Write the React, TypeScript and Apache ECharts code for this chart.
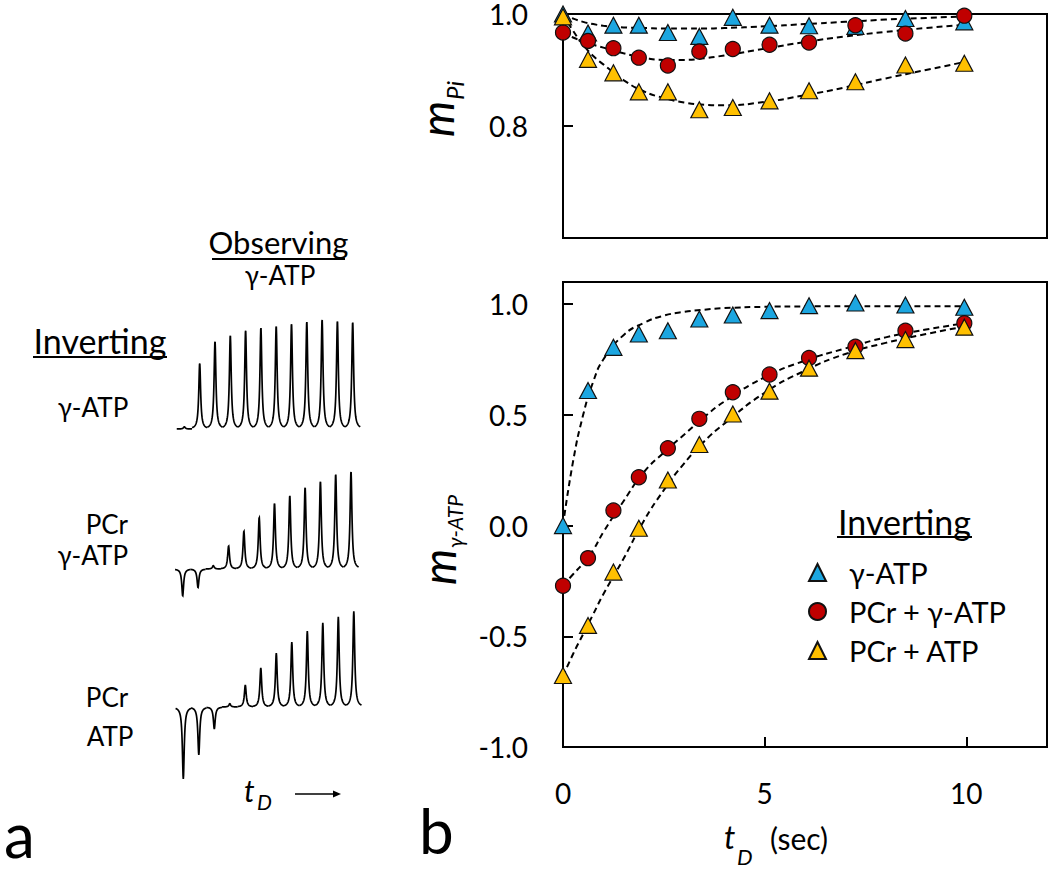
import React, { useEffect, useRef } from "react";
import * as echarts from "echarts";

// ---------- data ----------
const delayTimes = [0, 0.62, 1.25, 1.88, 2.6, 3.38, 4.21, 5.12, 6.1, 7.25, 8.49, 9.95];

// top panel (m_Pi)
const piGamma = [1.0, 0.966, 0.98, 0.98, 0.967, 0.96, 0.994, 0.98, 0.979, 0.978, 0.992, 0.986];
const piPCrGamma = [0.967, 0.952, 0.939, 0.922, 0.908, 0.933, 0.9375, 0.945, 0.949, 0.98, 0.965, 0.997];
const piPCrATP = [0.995, 0.919, 0.895, 0.861, 0.861, 0.829, 0.833, 0.845, 0.863, 0.879, 0.909, 0.912];

// bottom panel (m_gamma-ATP)
const atpGamma = [0.0, 0.61, 0.805, 0.865, 0.88, 0.933, 0.951, 0.971, 0.993, 1.005, 0.996, 0.986];
const atpPCrGamma = [-0.272, -0.147, 0.068, 0.218, 0.349, 0.482, 0.602, 0.682, 0.757, 0.808, 0.88, 0.914];
const atpPCrATP = [-0.677, -0.451, -0.21, -0.012, 0.206, 0.366, 0.504, 0.607, 0.711, 0.79, 0.84, 0.896];

// fitted curves
const fitTimes = [0, 0.25, 0.5, 0.75, 1, 1.5, 2, 2.5, 3, 3.5, 4, 5, 6, 7, 8, 9, 10];
const fitPiGamma = [1.0, 0.992, 0.986, 0.982, 0.979, 0.976, 0.975, 0.974, 0.974, 0.974, 0.975, 0.978, 0.982, 0.986, 0.99, 0.993, 0.996];
const fitPiPCrGamma = [0.967, 0.958, 0.951, 0.945, 0.94, 0.93, 0.922, 0.918, 0.918, 0.921, 0.926, 0.938, 0.95, 0.96, 0.968, 0.975, 0.981];
const fitPiPCrATP = [1.0, 0.97, 0.945, 0.925, 0.91, 0.882, 0.862, 0.85, 0.842, 0.838, 0.837, 0.843, 0.855, 0.869, 0.885, 0.9, 0.915];
const fitAtpGamma = [0.0, 0.29, 0.5, 0.65, 0.75, 0.86, 0.915, 0.948, 0.965, 0.975, 0.982, 0.988, 0.99, 0.991, 0.991, 0.991, 0.991];
const fitAtpPCrGamma = [-0.27, -0.22, -0.17, -0.11, -0.03, 0.11, 0.24, 0.33, 0.41, 0.49, 0.56, 0.67, 0.745, 0.8, 0.85, 0.885, 0.915];
const fitAtpPCrATP = [-0.68, -0.58, -0.49, -0.4, -0.31, -0.15, 0.02, 0.16, 0.28, 0.38, 0.46, 0.6, 0.7, 0.775, 0.825, 0.865, 0.9];

// spectra peak heights (panel a), relative units
const spectrumGamma = [0.02, 0.6, 0.8, 0.855, 0.9, 0.925, 0.94, 0.96, 0.98, 1.0, 0.985, 0.975];
const spectrumPCrGamma = [-0.245, -0.17, 0.03, 0.21, 0.345, 0.47, 0.6, 0.67, 0.745, 0.8, 0.865, 0.89];
const spectrumPCrATP = [-0.655, -0.435, -0.2, 0.03, 0.2, 0.355, 0.49, 0.59, 0.69, 0.765, 0.82, 0.87];

const seriesNames = ["γ-ATP", "PCr + γ-ATP", "PCr + ATP"];
const xTicks = { min: 0, max: 12, interval: 5 };

// ---------- styles ----------
const FONT = "Lato, 'DejaVu Sans', sans-serif";
const BLUE = "#1CA6E0";
const RED = "#C00000";
const YELLOW = "#FFC000";

const zip = (xs: number[], ys: number[]) => xs.map((x, i) => [x, ys[i]]);

function peakItem(params: any, api: any) {
  const i = api.value(0);
  const h = api.value(1);
  const base = api.coord([i, 0]);
  const apex = api.coord([i, h]);
  const amp = apex[1] - base[1];
  const half = api.size([1, 0])[0] / 2;
  const w = 1.1;
  const pts: number[][] = [];
  for (let dx = -half; dx <= half + 0.001; dx += 0.25) {
    pts.push([base[0] + dx, base[1] + (amp * w * w) / (w * w + dx * dx)]);
  }
  return {
    type: "polyline",
    shape: { points: pts },
    style: { stroke: "#000", lineWidth: 1.7, fill: "none" },
  };
}

function fitSeries(name: string, data: number[], axis: number) {
  return {
    name: name + " fit",
    type: "line",
    xAxisIndex: axis,
    yAxisIndex: axis,
    data: zip(fitTimes, data),
    smooth: true,
    showSymbol: false,
    clip: false,
    silent: true,
    lineStyle: { color: "#000", width: 2, type: [6, 4] },
    z: 2,
  };
}

function markerSeries(name: string, data: number[], axis: number, color: string, symbol: string, z: number) {
  return {
    name,
    type: "scatter",
    xAxisIndex: axis,
    yAxisIndex: axis,
    data: zip(delayTimes, data),
    symbol,
    symbolSize: symbol === "circle" ? 15 : [17, 16],
    clip: false,
    itemStyle: { color, borderColor: "#111", borderWidth: 1.2, opacity: 1 },
    z,
  };
}

function spectrumSeries(data: number[], idx: number) {
  return {
    type: "custom",
    xAxisIndex: idx,
    yAxisIndex: idx,
    renderItem: peakItem,
    data: data.map((v, i) => [i, v]),
    silent: true,
    clip: false,
  };
}

const txt = (x: number, y: number, text: string, size: number, extra: any = {}) => ({
  type: "text",
  x,
  y,
  rotation: extra.rotation || 0,
  style: {
    text,
    fontSize: size,
    fontFamily: FONT,
    fontStyle: extra.italic ? "italic" : "normal",
    fill: "#000",
    align: extra.align || "left",
    verticalAlign: extra.va || "middle",
    lineHeight: extra.lh || Math.round(size * 1.1),
  },
});

const hline = (x1: number, x2: number, y: number, w = 2) => ({
  type: "line",
  shape: { x1, y1: y, x2, y2: y },
  style: { stroke: "#000", lineWidth: w },
});

export default function App() {
  const ref = useRef<HTMLDivElement>(null);

  useEffect(() => {
    const chart = echarts.init(ref.current!, null, { renderer: "svg" });

    const axisLbl = {
      color: "#000",
      fontSize: 28,
      fontFamily: FONT,
      lineHeight: 24,
    };
    const tick = { show: true, inside: true, length: 10, lineStyle: { color: "#000", width: 2 } };
    const aLine = { show: true, onZero: false, lineStyle: { color: "#000", width: 2 } };

    const hiddenX = { type: "value", min: -0.5, max: 11.5, show: false };

    const option: any = {
      animation: false,
      textStyle: { fontFamily: FONT },
      grid: [
        { left: 563, top: 14, width: 484, height: 224, show: true, borderColor: "#000", borderWidth: 2 },
        { left: 563, top: 282, width: 484, height: 465, show: true, borderColor: "#000", borderWidth: 2 },
        { left: 176.75, top: 308, width: 183.6, height: 143 },
        { left: 175.05, top: 459, width: 183.6, height: 154 },
        { left: 175.55, top: 597, width: 186, height: 198 },
      ],
      xAxis: [
        {
          gridIndex: 0, type: "value", ...xTicks,
          axisLine: aLine, axisTick: { show: false }, axisLabel: { show: false }, splitLine: { show: false },
        },
        {
          gridIndex: 1, type: "value", ...xTicks,
          axisLine: aLine, axisTick: tick, splitLine: { show: false },
          axisLabel: { ...axisLbl, margin: 34, showMaxLabel: false },
        },
        { gridIndex: 2, ...hiddenX },
        { gridIndex: 3, ...hiddenX },
        { gridIndex: 4, ...hiddenX },
      ],
      yAxis: [
        {
          gridIndex: 0, type: "value", min: 0.6, max: 1.0, interval: 0.2,
          axisLine: aLine, axisTick: tick, splitLine: { show: false },
          axisLabel: { ...axisLbl, margin: 35, showMinLabel: false, formatter: (v: number) => v.toFixed(1) },
        },
        {
          gridIndex: 1, type: "value", min: -1.0, max: 1.1, interval: 0.5,
          axisLine: aLine, axisTick: tick, splitLine: { show: false },
          axisLabel: { ...axisLbl, margin: 35, showMaxLabel: false, formatter: (v: number) => v.toFixed(1) },
        },
        { gridIndex: 2, type: "value", min: -0.2, max: 1.1, show: false },
        { gridIndex: 3, type: "value", min: -0.4, max: 1.0, show: false },
        { gridIndex: 4, type: "value", min: -0.8, max: 1.0, show: false },
      ],
      legend: {
        data: seriesNames,
        orient: "vertical",
        left: 808,
        top: 558,
        itemWidth: 17,
        itemHeight: 17,
        itemGap: 10,
        padding: 0,
        selectedMode: false,
        formatter: (n: string) => "{a|" + n + "}",
        textStyle: {
          color: "#000",
          fontSize: 29,
          fontFamily: FONT,
          rich: { a: { fontSize: 29, fontFamily: FONT, color: "#000", padding: [0, 0, 0, 18], lineHeight: 28 } },
        },
      },
      series: [
        fitSeries(seriesNames[0], fitPiGamma, 0),
        fitSeries(seriesNames[1], fitPiPCrGamma, 0),
        fitSeries(seriesNames[2], fitPiPCrATP, 0),
        markerSeries(seriesNames[0], piGamma, 0, BLUE, "triangle", 5),
        markerSeries(seriesNames[1], piPCrGamma, 0, RED, "circle", 6),
        markerSeries(seriesNames[2], piPCrATP, 0, YELLOW, "triangle", 7),
        fitSeries(seriesNames[0], fitAtpGamma, 1),
        fitSeries(seriesNames[1], fitAtpPCrGamma, 1),
        fitSeries(seriesNames[2], fitAtpPCrATP, 1),
        markerSeries(seriesNames[0], atpGamma, 1, BLUE, "triangle", 5),
        markerSeries(seriesNames[1], atpPCrGamma, 1, RED, "circle", 6),
        markerSeries(seriesNames[2], atpPCrATP, 1, YELLOW, "triangle", 7),
        spectrumSeries(spectrumGamma, 2),
        spectrumSeries(spectrumPCrGamma, 3),
        spectrumSeries(spectrumPCrATP, 4),
      ],
      graphic: [
        // panel a texts
        txt(278.5, 242, "Observing", 31, { align: "center" }),
        hline(212, 345, 259),
        txt(280, 275, "γ-ATP", 26, { align: "center" }),
        txt(100, 340, "Inverting", 34, { align: "center" }),
        hline(33, 167, 357),
        txt(93, 407, "γ-ATP", 26, { align: "center" }),
        txt(128, 524, "PCr", 26, { align: "right" }),
        txt(128, 555, "γ-ATP", 26, { align: "right" }),
        txt(107, 697, "PCr", 26, { align: "center" }),
        txt(110, 736, "ATP", 26, { align: "center" }),
        txt(244, 790, "t", 30, { italic: true }),
        txt(257, 801, "D", 21, { italic: true }),
        hline(295, 336, 794, 1.6),
        { type: "polygon", shape: { points: [[333, 790.5], [341, 794], [333, 797.5]] }, style: { fill: "#000" } },
        txt(4, 834, "a", 62, { lh: 48 }),
        txt(419, 830, "b", 62, { lh: 56 }),
        // axis titles
        txt(436, 137, "m", 46, { italic: true, rotation: Math.PI / 2 }),
        txt(454, 100, "Pi", 24, { italic: true, rotation: Math.PI / 2 }),
        txt(438, 585, "m", 46, { italic: true, rotation: Math.PI / 2 }),
        txt(454, 548, "γ-ATP", 21, { italic: true, rotation: Math.PI / 2 }),
        txt(724, 836, "t", 32, { italic: true }),
        txt(737, 856, "D", 22, { italic: true, lh: 20 }),
        txt(770, 838, "(sec)", 30),
        // legend title
        txt(904.5, 521, "Inverting", 34, { align: "center" }),
        hline(837, 972, 537),
      ],
    };

    chart.setOption(option);
    return () => chart.dispose();
  }, []);

  return (
    <div
      ref={ref}
      style={{ position: "fixed", left: 0, top: 0, width: 1050, height: 870, background: "#fff" }}
    />
  );
}
